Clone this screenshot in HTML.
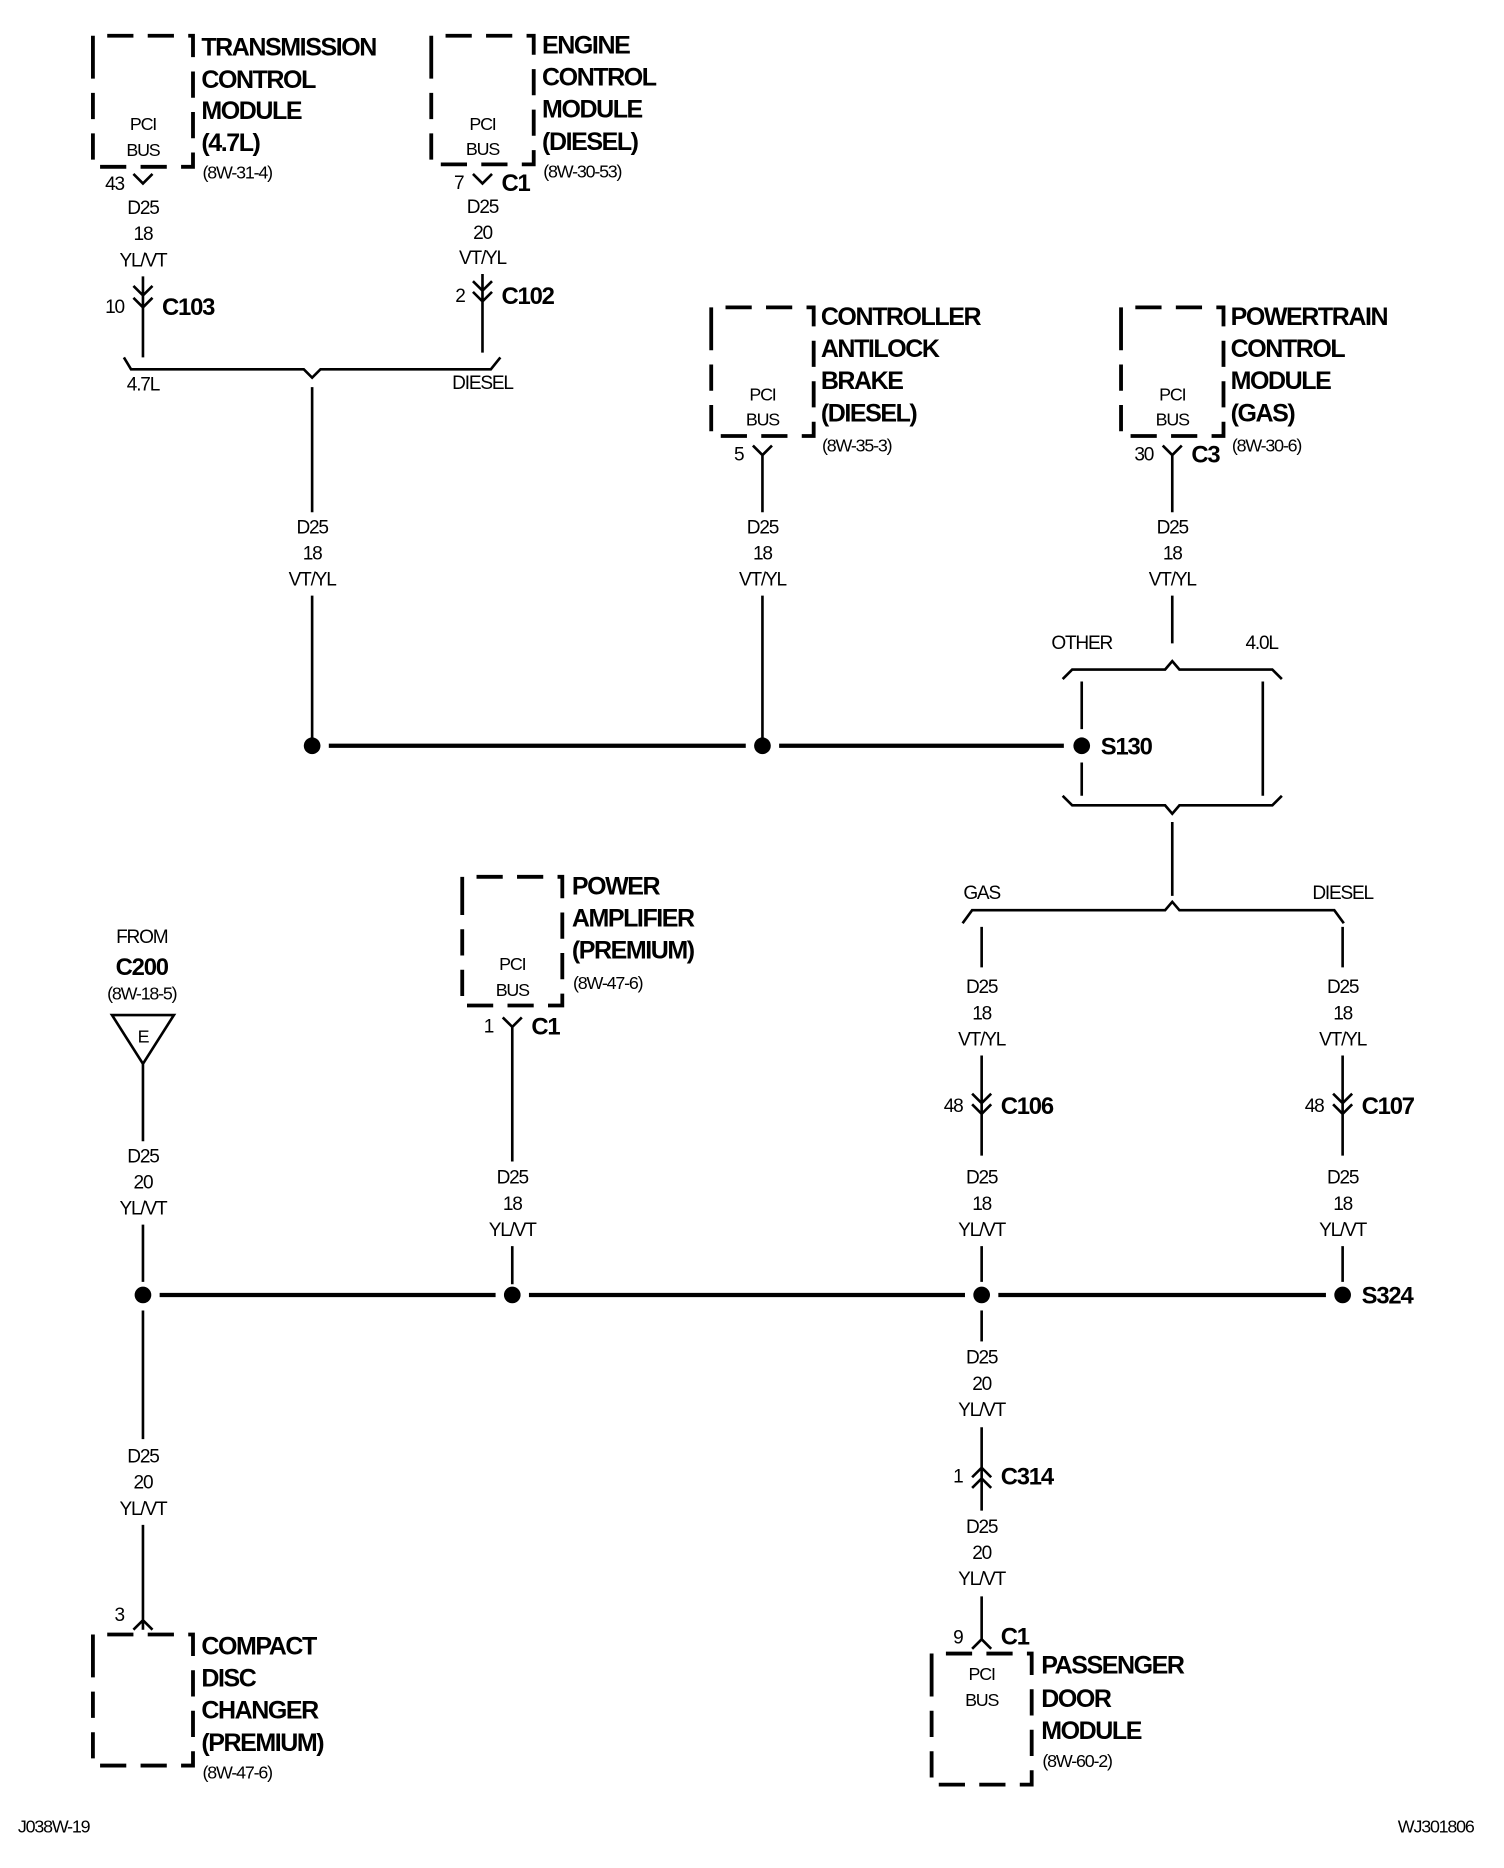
<!DOCTYPE html>
<html><head><meta charset="utf-8"><style>
html,body{margin:0;padding:0;background:#fff;}
svg{display:block}
text{font-family:"Liberation Sans",sans-serif;fill:#000;dominant-baseline:central;}
.t{font-weight:bold;font-size:21px;letter-spacing:-1.2px}
.r{font-size:15px;letter-spacing:-1px}
.w{font-size:16px;letter-spacing:-1px;text-anchor:middle}
.p{font-size:15px;letter-spacing:-1px;text-anchor:middle}
.c{font-weight:bold;font-size:20px;letter-spacing:-1px}
.n{font-size:16px;letter-spacing:-1px;text-anchor:end}
.box{fill:none;stroke:#000;stroke-width:3.2;stroke-dasharray:22 12}
.l{fill:none;stroke:#000;stroke-width:2.2}
.b{fill:none;stroke:#000;stroke-width:3.6}
</style></head><body>
<svg width="1504" height="1868" viewBox="0 0 1262 1568" preserveAspectRatio="xMinYMin meet" xmlns="http://www.w3.org/2000/svg">
<!-- TCM -->
<path class="box" d="M78 52 V30 H162 V140 H78 V52"/>
<text class="p" x="120" y="104">PCI</text><text class="p" x="120" y="126">BUS</text>
<text class="t" x="169" y="40">TRANSMISSION</text><text class="t" x="169" y="67">CONTROL</text><text class="t" x="169" y="93">MODULE</text><text class="t" x="169" y="120">(4.7L)</text>
<text class="r" x="170" y="145">(8W-31-4)</text>
<path class="l" d="M112 146 L120 154 L128 146"/><text class="n" x="104" y="155">43</text>
<text class="w" x="120" y="175">D25</text><text class="w" x="120" y="197">18</text><text class="w" x="120" y="219">YL/VT</text>
<path class="l" d="M120 232 V300 M112 240 L120 248 L128 240 M112 250 L120 258 L128 250"/>
<text class="n" x="104" y="258">10</text><text class="c" x="136" y="258">C103</text>
<!-- ECM -->
<path class="box" d="M362 52 V30 H448 V138 H362 V52"/>
<text class="p" x="405" y="104">PCI</text><text class="p" x="405" y="125">BUS</text>
<text class="t" x="455" y="38">ENGINE</text><text class="t" x="455" y="65">CONTROL</text><text class="t" x="455" y="92">MODULE</text><text class="t" x="455" y="119">(DIESEL)</text>
<text class="r" x="456" y="144">(8W-30-53)</text>
<path class="l" d="M397 146 L405 154 L413 146"/><text class="n" x="389" y="154">7</text><text class="c" x="421" y="154">C1</text>
<text class="w" x="405" y="174">D25</text><text class="w" x="405" y="196">20</text><text class="w" x="405" y="217">VT/YL</text>
<path class="l" d="M405 230 V296 M397 236 L405 244 L413 236 M397 245 L405 253 L413 245"/>
<text class="n" x="390" y="249">2</text><text class="c" x="421" y="249">C102</text>
<!-- bracket 1 -->
<path class="l" d="M104 300 L110 310 H255 L262 317 L269 310 H412 L420 300"/>
<text class="w" x="120" y="323">4.7L</text><text class="w" x="405" y="322">DIESEL</text>
<path class="l" d="M262 325 V430 M262 500 V620"/>
<text class="w" x="262" y="443">D25</text><text class="w" x="262" y="465">18</text><text class="w" x="262" y="487">VT/YL</text>
<!-- ABS -->
<path class="box" d="M597 280 V258 H683 V366 H597 V280"/>
<text class="p" x="640" y="331">PCI</text><text class="p" x="640" y="352">BUS</text>
<text class="t" x="689" y="266">CONTROLLER</text><text class="t" x="689" y="293">ANTILOCK</text><text class="t" x="689" y="320">BRAKE</text><text class="t" x="689" y="347">(DIESEL)</text>
<text class="r" x="690" y="374">(8W-35-3)</text>
<path class="l" d="M632 374 L640 382 L648 374 M640 382 V430 M640 500 V620"/><text class="n" x="624" y="382">5</text>
<text class="w" x="640" y="443">D25</text><text class="w" x="640" y="465">18</text><text class="w" x="640" y="487">VT/YL</text>
<!-- PCM -->
<path class="box" d="M941 280 V258 H1027 V366 H941 V280"/>
<text class="p" x="984" y="331">PCI</text><text class="p" x="984" y="352">BUS</text>
<text class="t" x="1033" y="266">POWERTRAIN</text><text class="t" x="1033" y="293">CONTROL</text><text class="t" x="1033" y="320">MODULE</text><text class="t" x="1033" y="347">(GAS)</text>
<text class="r" x="1034" y="374">(8W-30-6)</text>
<path class="l" d="M976 374 L984 382 L992 374 M984 382 V430 M984 500 V540"/><text class="n" x="968" y="382">30</text><text class="c" x="1000" y="382">C3</text>
<text class="w" x="984" y="443">D25</text><text class="w" x="984" y="465">18</text><text class="w" x="984" y="487">VT/YL</text>
<text class="w" x="908" y="540">OTHER</text><text class="w" x="1059" y="540">4.0L</text>
<path class="l" d="M892 570 L900 562 H978 L984 555 L990 562 H1068 L1076 570"/>
<path class="l" d="M908 572 V612 M908 640 V668 M1060 572 V668"/>
<path class="l" d="M892 668 L900 676 H978 L984 683 L990 676 H1068 L1076 668"/>
<path class="l" d="M984 690 V752"/>
<text class="c" x="924" y="627">S130</text>
<!-- bus 1 -->
<path class="b" d="M276 626 H626 M654 626 H893"/>
<circle cx="262" cy="626" r="7"/><circle cx="640" cy="626" r="7"/><circle cx="908" cy="626" r="7"/>
<!-- gas/diesel -->
<text class="w" x="824" y="750">GAS</text><text class="w" x="1127" y="750">DIESEL</text>
<path class="l" d="M808 775 L816 764 H978 L984 757 L990 764 H1120 L1128 775"/>
<path class="l" d="M824 778 V812 M1127 778 V812"/>
<text class="w" x="824" y="829">D25</text><text class="w" x="824" y="851">18</text><text class="w" x="824" y="873">VT/YL</text>
<text class="w" x="1127" y="829">D25</text><text class="w" x="1127" y="851">18</text><text class="w" x="1127" y="873">VT/YL</text>
<path class="l" d="M824 886 V970 M816 918 L824 926 L832 918 M816 927 L824 935 L832 927"/>
<path class="l" d="M1127 886 V970 M1119 918 L1127 926 L1135 918 M1119 927 L1127 935 L1135 927"/>
<text class="n" x="808" y="929">48</text><text class="c" x="840" y="929">C106</text>
<text class="n" x="1111" y="929">48</text><text class="c" x="1143" y="929">C107</text>
<text class="w" x="824" y="989">D25</text><text class="w" x="824" y="1011">18</text><text class="w" x="824" y="1033">YL/VT</text>
<text class="w" x="1127" y="989">D25</text><text class="w" x="1127" y="1011">18</text><text class="w" x="1127" y="1033">YL/VT</text>
<path class="l" d="M824 1046 V1076 M1127 1046 V1076"/>
<!-- power amp -->
<path class="box" d="M388 758 V736 H472 V844 H388 V758"/>
<text class="p" x="430" y="809">PCI</text><text class="p" x="430" y="831">BUS</text>
<text class="t" x="480" y="744">POWER</text><text class="t" x="480" y="771">AMPLIFIER</text><text class="t" x="480" y="798">(PREMIUM)</text>
<text class="r" x="481" y="825">(8W-47-6)</text>
<path class="l" d="M422 854 L430 862 L438 854 M430 862 V975 M430 1046 V1078"/><text class="n" x="414" y="862">1</text><text class="c" x="446" y="862">C1</text>
<text class="w" x="430" y="989">D25</text><text class="w" x="430" y="1011">18</text><text class="w" x="430" y="1033">YL/VT</text>
<!-- from C200 -->
<text class="w" x="119" y="787">FROM</text><text class="c" x="119" y="812" text-anchor="middle">C200</text><text class="r" x="119" y="834" text-anchor="middle">(8W-18-5)</text>
<path class="l" d="M94 852 H146 L120 893 Z M120 893 V958"/><text class="p" x="120" y="870">E</text>
<text class="w" x="120" y="971">D25</text><text class="w" x="120" y="993">20</text><text class="w" x="120" y="1015">YL/VT</text>
<path class="l" d="M120 1028 V1076 M120 1100 V1208 M120 1280 V1368 M112 1368 L120 1360 L128 1368"/>
<text class="w" x="120" y="1223">D25</text><text class="w" x="120" y="1245">20</text><text class="w" x="120" y="1267">YL/VT</text>
<text class="n" x="104" y="1356">3</text>
<!-- bus 2 -->
<path class="b" d="M134 1087 H416 M444 1087 H810 M838 1087 H1113"/>
<circle cx="120" cy="1087" r="7"/><circle cx="430" cy="1087" r="7"/><circle cx="824" cy="1087" r="7"/><circle cx="1127" cy="1087" r="7"/>
<text class="c" x="1143" y="1088">S324</text>
<!-- CD changer -->
<path class="box" d="M78 1394 V1372 H162 V1482 H78 V1394"/>
<text class="t" x="169" y="1382">COMPACT</text><text class="t" x="169" y="1409">DISC</text><text class="t" x="169" y="1436">CHANGER</text><text class="t" x="169" y="1463">(PREMIUM)</text>
<text class="r" x="170" y="1488">(8W-47-6)</text>
<!-- passenger door -->
<path class="l" d="M824 1100 V1126"/>
<text class="w" x="824" y="1140">D25</text><text class="w" x="824" y="1162">20</text><text class="w" x="824" y="1184">YL/VT</text>
<path class="l" d="M824 1198 V1268 M816 1240 L824 1232 L832 1240 M816 1249 L824 1241 L832 1249"/>
<text class="n" x="808" y="1240">1</text><text class="c" x="840" y="1240">C314</text>
<text class="w" x="824" y="1282">D25</text><text class="w" x="824" y="1304">20</text><text class="w" x="824" y="1326">YL/VT</text>
<path class="l" d="M824 1340 V1376 M816 1384 L824 1376 L832 1384"/>
<text class="n" x="808" y="1375">9</text><text class="c" x="840" y="1374">C1</text>
<path class="box" d="M782 1410 V1388 H866 V1498 H782 V1410"/>
<text class="p" x="824" y="1405">PCI</text><text class="p" x="824" y="1427">BUS</text>
<text class="t" x="874" y="1398">PASSENGER</text><text class="t" x="874" y="1426">DOOR</text><text class="t" x="874" y="1453">MODULE</text>
<text class="r" x="875" y="1478">(8W-60-2)</text>
<!-- footer -->
<text class="r" x="15" y="1533">J038W-19</text>
<text class="r" x="1237" y="1533" text-anchor="end">WJ301806</text>
</svg>
</body></html>
